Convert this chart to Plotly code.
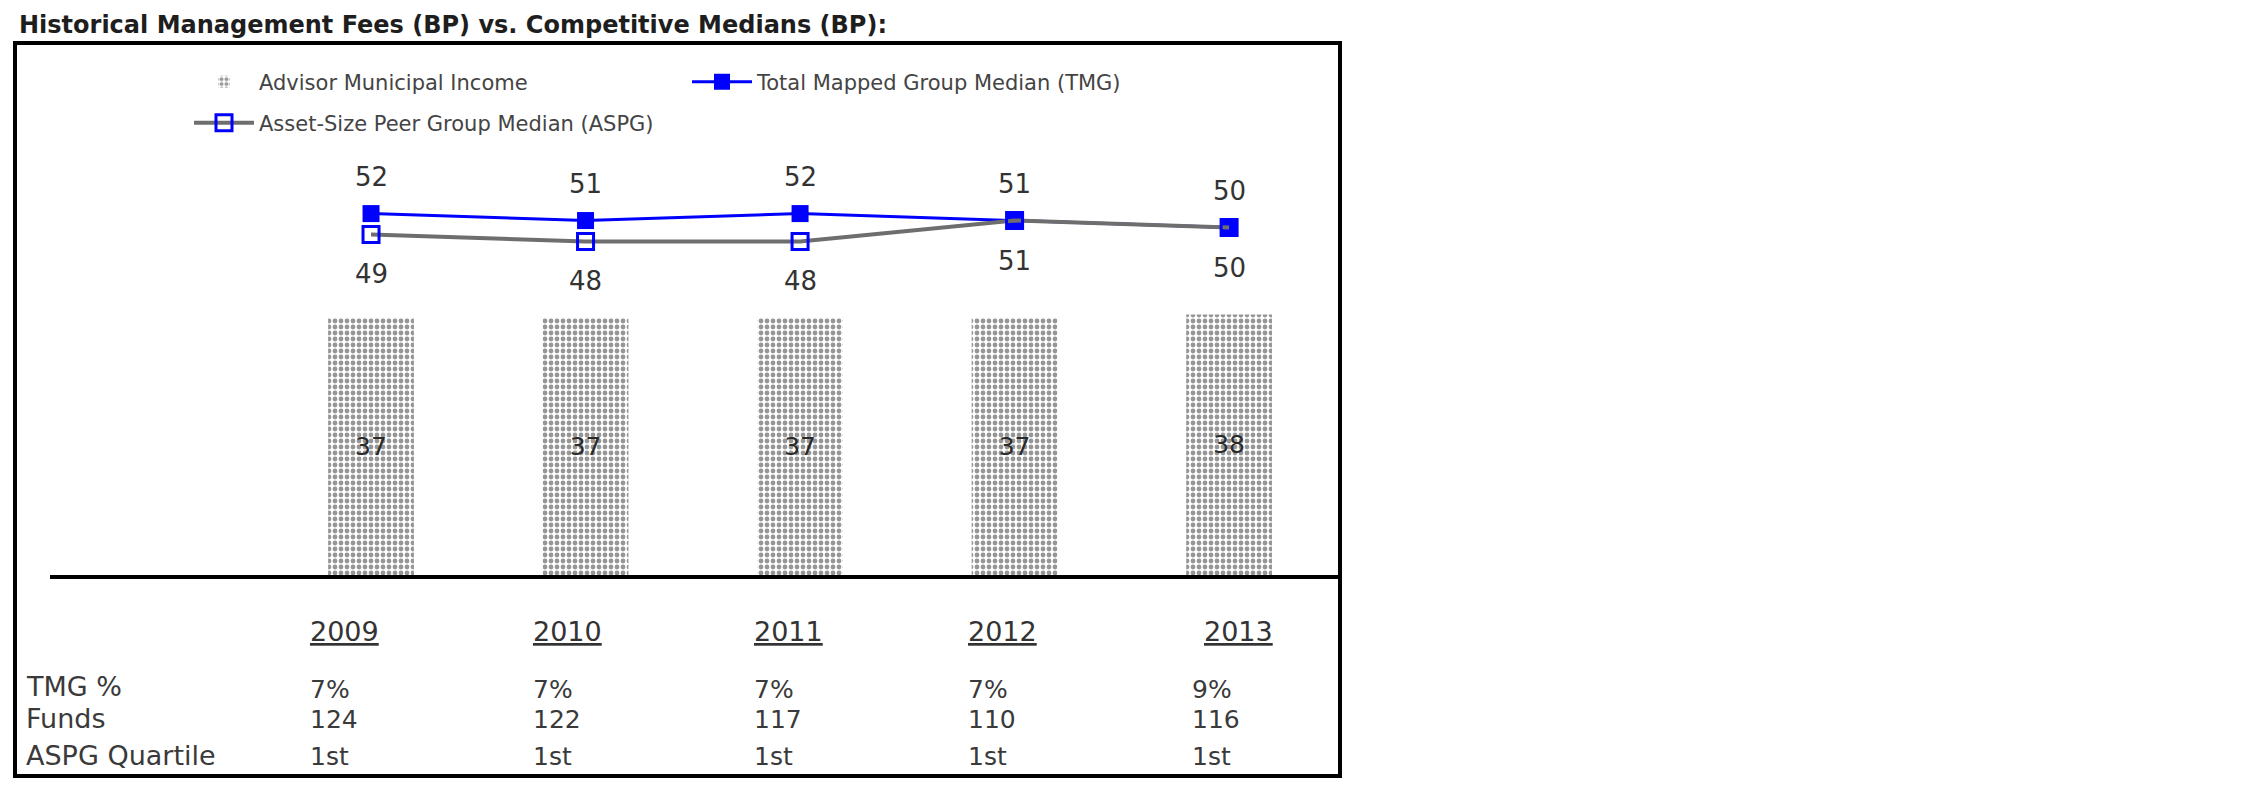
import plotly.graph_objects as go

# ---------------- data ----------------
YEARS = ["2009", "2010", "2011", "2012", "2013"]
ADVISOR_FEE = [37, 37, 37, 37, 37.5]          # bars (Advisor Municipal Income)
TMG_MEDIAN = [52, 51, 52, 51, 50]              # Total Mapped Group Median
ASPG_MEDIAN = [49, 48, 48, 51, 50]             # Asset-Size Peer Group Median
TMG_PCT = ["7%", "7%", "7%", "7%", "9%"]
FUNDS = [124, 122, 117, 110, 116]
ASPG_QUARTILE = ["1st", "1st", "1st", "1st", "1st"]
ROW_LABELS = ["TMG %", "Funds", "ASPG Quartile"]
TITLE = "Historical Management Fees (BP) vs. Competitive Medians (BP):"

# ---------------- layout constants (screen pixels) ----------------
W, H = 2250, 796
OFF = 8                      # page body margin offset
PLOT_L, PLOT_R, PLOT_T, PLOT_B = 50, 1340, 60, 575   # target screen coords
ML = PLOT_L - OFF
MR = W - (PLOT_R - OFF)
MT = PLOT_T - OFF
MB = H - (PLOT_B - OFF)
PW, PH = W - ML - MR, H - MT - MB
FONT = "DejaVu Sans"
TXT = "#3a3a3a"

def px_x(px):
    return (px - PLOT_L) / PW

def px_y(py):
    return (PLOT_B - py) / PH

YEAR_LEFT_PX = [308, 531, 752, 966, 1202]
VAL_LEFT_PX = [308, 531, 752, 966, 1190]
ROW_Y_PX = [686, 718, 755]
VAL_Y_PX = [689, 720, 756]
YEAR_Y_PX = 631

fig = go.Figure()

fig.add_trace(go.Bar(
    x=YEARS, y=ADVISOR_FEE, name="Advisor Municipal Income",
    width=0.4,
    marker=dict(color="white", line=dict(width=0),
                pattern=dict(shape=".", fgcolor="#2e2e2e", bgcolor="white",
                             size=6, solidity=0.5)),
    texttemplate="%{y:.0f}", textposition="inside", insidetextanchor="middle",
    textfont=dict(family=FONT, size=25, color="#2a2a2a"),
    legend="legend",
))

fig.add_trace(go.Scatter(
    x=YEARS, y=TMG_MEDIAN, name="Total Mapped Group Median (TMG)",
    mode="lines+markers",
    line=dict(color="#0000ff", width=3),
    marker=dict(symbol="square", size=17, color="#0000ff"),
    legend="legend",
))

fig.add_trace(go.Scatter(
    x=YEARS, y=ASPG_MEDIAN, name="Asset-Size Peer Group Median (ASPG)",
    mode="lines+markers",
    line=dict(color="#6e6e6e", width=4),
    marker=dict(symbol="square-open", size=16, color="#0000ff",
                line=dict(width=3, color="#0000ff")),
    legend="legend2",
))

ann = []
# value labels (x given as category index)
for i, v in enumerate(TMG_MEDIAN):
    ann.append(dict(x=i, y=v, xref="x", yref="y", text=str(v), showarrow=False,
                    yshift=37, font=dict(family=FONT, size=26, color="#333333")))
for i, v in enumerate(ASPG_MEDIAN):
    ann.append(dict(x=i, y=v, xref="x", yref="y", text=str(v), showarrow=False,
                    yshift=-40, font=dict(family=FONT, size=26, color="#333333")))

# title
ann.append(dict(xref="paper", yref="paper", x=px_x(17), y=px_y(25),
                xanchor="left", yanchor="middle", showarrow=False, text=TITLE,
                font=dict(family=FONT, size=24, color="#1e1e1e", weight="bold")))

# table: years
for yr, xp in zip(YEARS, YEAR_LEFT_PX):
    ann.append(dict(xref="paper", yref="paper", x=px_x(xp), y=px_y(YEAR_Y_PX),
                    xanchor="left", yanchor="middle", showarrow=False, text=yr,
                    font=dict(family=FONT, size=27, color="#333333",
                              lineposition="under")))
# table: row labels
for lab, yp in zip(ROW_LABELS, ROW_Y_PX):
    ann.append(dict(xref="paper", yref="paper", x=px_x(24), y=px_y(yp),
                    xanchor="left", yanchor="middle", showarrow=False, text=lab,
                    font=dict(family=FONT, size=27, color=TXT)))
# table: values
for row, yp in zip([TMG_PCT, FUNDS, ASPG_QUARTILE], VAL_Y_PX):
    for val, xp in zip(row, VAL_LEFT_PX):
        ann.append(dict(xref="paper", yref="paper", x=px_x(xp), y=px_y(yp),
                        xanchor="left", yanchor="middle", showarrow=False,
                        text=str(val), font=dict(family=FONT, size=25, color=TXT)))

shapes = [dict(type="rect", xref="paper", yref="paper",
               x0=px_x(15), x1=px_x(1340), y0=px_y(776), y1=px_y(43),
               line=dict(color="black", width=4), fillcolor="rgba(0,0,0,0)",
               layer="above")]

legend_common = dict(
    orientation="h", xref="container", yref="container",
    xanchor="left", yanchor="middle", bgcolor="rgba(0,0,0,0)",
    borderwidth=0, itemwidth=60,
    font=dict(family=FONT, size=21, color="#444444"),
)

fig.update_layout(
    width=W, height=H,
    margin=dict(l=ML, r=MR, t=MT, b=MB, autoexpand=False),
    paper_bgcolor="white", plot_bgcolor="white",
    showlegend=True,
    legend=dict(**legend_common, x=(189 - OFF) / W, y=1 - (82 - OFF) / H,
                entrywidth=423, entrywidthmode="pixels"),
    legend2=dict(**legend_common, x=(189 - OFF) / W, y=1 - (123 - OFF) / H),
    xaxis=dict(type="category", categoryorder="array", categoryarray=YEARS,
               range=[-1.4965, 4.517], showgrid=False, zeroline=False,
               showticklabels=False, ticks="", showline=True,
               linecolor="black", linewidth=4, fixedrange=True),
    yaxis=dict(range=[0, PH / 6.95], visible=False, fixedrange=True),
    annotations=ann, shapes=shapes,
    bargap=0.5,
)

fig.write_html("out.html")
